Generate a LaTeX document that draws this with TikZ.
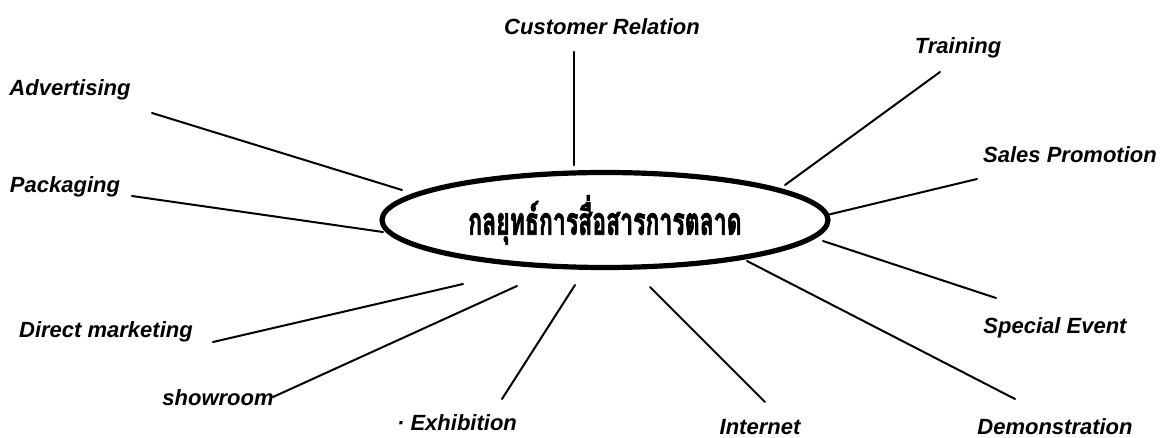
\documentclass[tikz,border=0pt]{standalone}
\usepackage{fontspec}
\setmainfont{Liberation Sans}
\newfontfamily\thaifont[Script=Thai,FakeBold=2.5]{Loma}
\usetikzlibrary{shapes.geometric}
\begin{document}
\begin{tikzpicture}[x=0.5pt,y=-0.5pt,
  lbl/.style={inner sep=0pt, font=\fontsize{11}{12}\selectfont\bfseries\itshape},
  spoke/.style={line width=1pt, line cap=round},
  hub/.style={draw, ellipse, line width=2.6pt, minimum width=223pt, minimum height=47.5pt, inner sep=0pt,
    font=\thaifont\bfseries\fontsize{12}{14}\selectfont}]
\useasboundingbox (0,0) rectangle (1173,438);
% centre
\node[hub] (hub) at (605,220) {\scalebox{0.96}[1.6]{กลยุทธ์การสื่อสารการตลาด}};
% labels
\node[lbl] (cr) at (602,27) {Customer Relation};
\node[lbl] (tr) at (958,48) {Training};
\node[lbl] (sp) at (1070,155) {Sales Promotion};
\node[lbl] (se) at (1055,328) {Special Event};
\node[lbl] (de) at (1055,427) {Demonstration};
\node[lbl] (in) at (760,427) {Internet};
\node[lbl] (ex) at (457,423) {\textperiodcentered\ Exhibition};
\node[lbl] (sh) at (218,398) {showroom};
\node[lbl] (dm) at (106,332) {Direct marketing};
\node[lbl] (pk) at (65,187) {Packaging};
\node[lbl] (ad) at (70,90) {Advertising};
% spoke ends
\coordinate (cr1) at (574,52);  \coordinate (cr2) at (574,165);
\coordinate (tr1) at (940,72);  \coordinate (tr2) at (785,185);
\coordinate (sp1) at (977,179); \coordinate (sp2) at (827,215);
\coordinate (se1) at (996,298); \coordinate (se2) at (823,241);
\coordinate (de1) at (1015,399);\coordinate (de2) at (747,261);
\coordinate (in1) at (765,402); \coordinate (in2) at (650,287);
\coordinate (ex1) at (502,399); \coordinate (ex2) at (575,285);
\coordinate (sh1) at (273,397); \coordinate (sh2) at (517,286);
\coordinate (dm1) at (213,342); \coordinate (dm2) at (463,284);
\coordinate (pk1) at (132,196); \coordinate (pk2) at (383,232);
\coordinate (ad1) at (152,113); \coordinate (ad2) at (402,190);
% spokes
\draw[spoke, line width=1.4pt] (cr1) -- (cr2);
\foreach \s in {tr,sp,se,de,in,ex,sh,dm,pk,ad}
  \draw[spoke] (\s1) -- (\s2);
\end{tikzpicture}
\end{document}
